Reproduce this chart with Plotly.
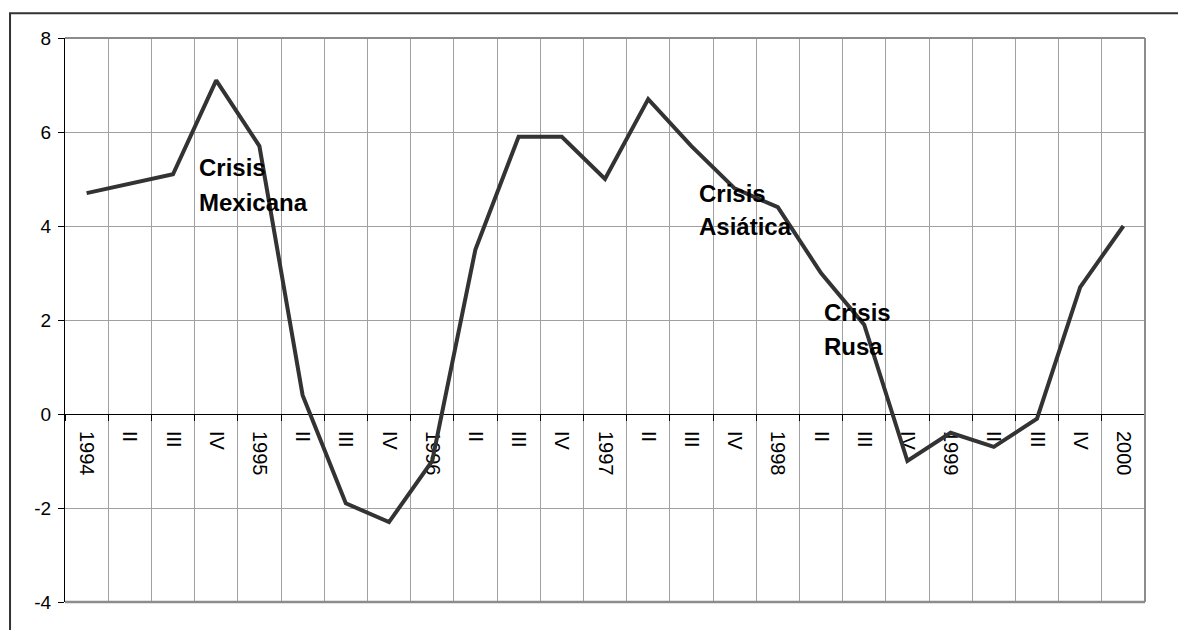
import plotly.graph_objects as go

# Quarterly series, 1994 Q1 to 2000 Q1
quarter_labels = [
    "1994", "II", "III", "IV",
    "1995", "II", "III", "IV",
    "1996", "II", "III", "IV",
    "1997", "II", "III", "IV",
    "1998", "II", "III", "IV",
    "1999", "II", "III", "IV",
    "2000",
]
growth = [
    4.7, 4.9, 5.1, 7.1,
    5.7, 0.4, -1.9, -2.3,
    -1.0, 3.5, 5.9, 5.9,
    5.0, 6.7, 5.7, 4.8,
    4.4, 3.0, 1.9, -1.0,
    -0.4, -0.7, -0.1, 2.7,
    4.0,
]
y_ticks = [-4, -2, 0, 2, 4, 6, 8]
y_tick_text = ["-4", "-2", "0", "2", "4", "6", "8"]

# Event labels: (first line, second line, left x in category units, y of each line)
events = [
    ("Crisis", "Mexicana", 2.55, 5.24, 4.49),
    ("Crisis", "Asiática", 14.12, 4.70, 3.98),
    ("Crisis", "Rusa", 17.03, 2.15, 1.43),
]

FONT = "Arial, Liberation Sans, sans-serif"
GRID = "#a0a0a0"
x_idx = list(range(len(quarter_labels)))

fig = go.Figure(
    go.Scatter(
        x=x_idx,
        y=growth,
        mode="lines",
        line=dict(color="#333333", width=4),
        hoverinfo="skip",
    )
)

annotations = []
for line1, line2, xl, y1, y2 in events:
    for txt, yy in ((line1, y1), (line2, y2)):
        annotations.append(
            dict(
                x=xl, y=yy, xref="x", yref="y", text=f"<b>{txt}</b>",
                showarrow=False, xanchor="left", yanchor="middle",
                font=dict(family=FONT, size=24, color="black"),
            )
        )

shapes = [
    # chart-area frame
    dict(type="rect", xref="paper", yref="paper",
         x0=-0.0509, x1=1.5, y0=-0.5, y1=1.0438,
         line=dict(color="#333333", width=2), fillcolor="rgba(0,0,0,0)",
         layer="above"),
    # plot-area border (top, right, bottom)
    dict(type="line", xref="paper", yref="paper", x0=0, x1=1, y0=1, y1=1,
         line=dict(color="#8c8c8c", width=2), layer="above"),
    dict(type="line", xref="paper", yref="paper", x0=1, x1=1, y0=0, y1=1,
         line=dict(color="#8c8c8c", width=2), layer="above"),
    dict(type="line", xref="paper", yref="paper", x0=0, x1=1, y0=0, y1=0,
         line=dict(color="#8c8c8c", width=2.5), layer="above"),
]

fig.update_layout(
    width=1178,
    height=630,
    margin=dict(l=65, r=33, t=38, b=28),
    paper_bgcolor="white",
    plot_bgcolor="white",
    showlegend=False,
    annotations=annotations,
    shapes=shapes,
    xaxis=dict(
        range=[-0.5, len(quarter_labels) - 0.5],
        tickmode="array",
        tickvals=x_idx,
        ticktext=quarter_labels,
        tickangle=90,
        ticks="",
        showgrid=False,
        zeroline=False,
        showline=True,
        linecolor="black",
        linewidth=1,
        anchor="free",
        position=4 / 12,
        ticklabelstandoff=12,
        tickfont=dict(family=FONT, size=20, color="black"),
        minor=dict(
            tickmode="linear",
            tick0=0.5,
            dtick=1,
            ticks="outside",
            ticklen=6,
            tickcolor="black",
            tickwidth=1,
            showgrid=True,
            gridcolor=GRID,
            gridwidth=1,
        ),
        layer="below traces",
    ),
    yaxis=dict(
        range=[-4, 8],
        tickmode="array",
        tickvals=y_ticks,
        ticktext=y_tick_text,
        ticks="outside",
        ticklen=6,
        tickcolor="black",
        showline=True,
        linecolor="black",
        linewidth=1,
        showgrid=True,
        gridcolor=GRID,
        gridwidth=1,
        zeroline=False,
        ticklabelstandoff=3,
        tickfont=dict(family=FONT, size=19, color="black"),
        layer="below traces",
    ),
)

fig.write_html("out.html")
